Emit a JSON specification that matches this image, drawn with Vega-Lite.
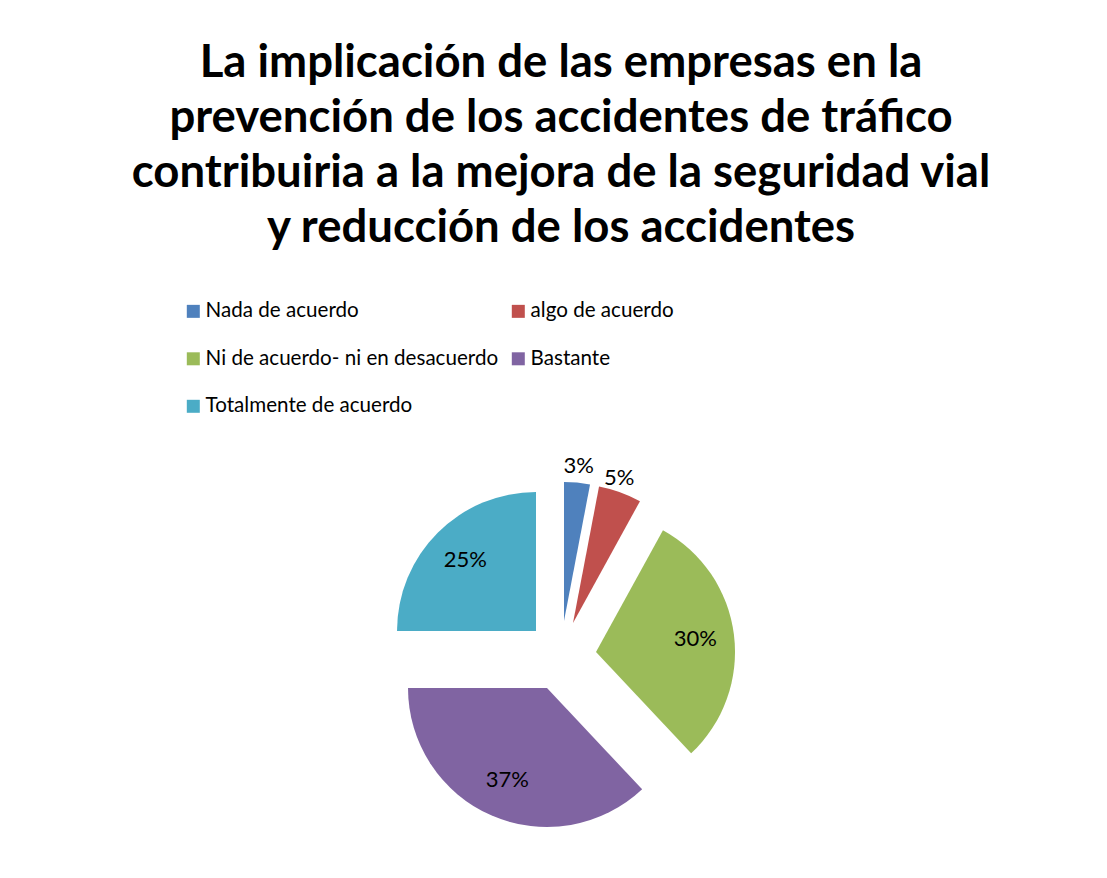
{
  "$schema": "https://vega.github.io/schema/vega-lite/v6.json",
  "width": 1092,
  "height": 444,
  "autosize": "none",
  "padding": {"left": 15, "top": 434, "right": 0, "bottom": 0},
  "background": "white",
  "title": {
    "text": ["La implicación de las empresas en la", "prevención de los accidentes de tráfico", "contribuiria a la mejora de la seguridad vial", "y reducción de los accidentes"],
    "font": "Lato",
    "fontSize": 45.5,
    "fontWeight": "bold",
    "color": "black",
    "lineHeight": 55,
    "anchor": "middle",
    "frame": "group",
    "offset": 50
  },
  "config": {
    "view": {"stroke": null},
    "legend": {
      "orient": "none",
      "legendX": 168,
      "legendY": -133,
      "columns": 2,
      "direction": "horizontal",
      "symbolType": "square",
      "symbolSize": 169,
      "symbolStrokeWidth": 0,
      "labelFont": "Lato",
      "labelFontSize": 20.6,
      "labelColor": "black",
      "labelLimit": 400,
      "labelOffset": 2,
      "rowPadding": 26.5,
      "columnPadding": 9,
      "padding": 0
    }
  },
  "data": {
    "values": [
      {"cat": "Nada de acuerdo", "pct": 0.03, "orden": 1},
      {"cat": "algo de acuerdo", "pct": 0.05, "orden": 2},
      {"cat": "Ni de acuerdo- ni en desacuerdo", "pct": 0.30, "orden": 3},
      {"cat": "Bastante", "pct": 0.37, "orden": 4},
      {"cat": "Totalmente de acuerdo", "pct": 0.25, "orden": 5}
    ]
  },
  "encoding": {
    "theta": {"field": "pct", "type": "quantitative", "stack": true},
    "order": {"field": "orden", "type": "quantitative"}
  },
  "layer": [
    {
      "layer": [
        {
          "mark": {"type": "arc", "radius": 139, "xOffset": 3, "yOffset": -35},
          "encoding": {
            "color": {"field": "cat", "type": "nominal", "title": null, "scale": {"domain": ["Nada de acuerdo", "algo de acuerdo", "Ni de acuerdo- ni en desacuerdo", "Bastante", "Totalmente de acuerdo"], "range": ["#4F81BD", "#C0504D", "#9BBB59", "#8064A2", "#4BACC6"]}},
            "opacity": {"condition": {"test": "datum.cat === 'Nada de acuerdo'", "value": 1}, "value": 0}
          }
        },
        {
          "mark": {"type": "text", "radius": 156, "xOffset": 3, "yOffset": -35, "font": "Lato", "fontSize": 22, "color": "black"},
          "encoding": {
            "text": {"field": "pct", "type": "quantitative", "format": ".0%"},
            "opacity": {"condition": {"test": "datum.cat === 'Nada de acuerdo'", "value": 1}, "value": 0}
          }
        }
      ]
    },
    {
      "layer": [
        {
          "mark": {"type": "arc", "radius": 139, "xOffset": 12, "yOffset": -33},
          "encoding": {
            "color": {"field": "cat", "type": "nominal", "title": null},
            "opacity": {"condition": {"test": "datum.cat === 'algo de acuerdo'", "value": 1}, "value": 0}
          }
        },
        {
          "mark": {"type": "text", "radius": 154, "xOffset": 6, "yOffset": -33, "font": "Lato", "fontSize": 22, "color": "black"},
          "encoding": {
            "text": {"field": "pct", "type": "quantitative", "format": ".0%"},
            "opacity": {"condition": {"test": "datum.cat === 'algo de acuerdo'", "value": 1}, "value": 0}
          }
        }
      ]
    },
    {
      "layer": [
        {
          "mark": {"type": "arc", "radius": 139, "xOffset": 35, "yOffset": -4},
          "encoding": {
            "color": {"field": "cat", "type": "nominal", "title": null},
            "opacity": {"condition": {"test": "datum.cat === 'Ni de acuerdo- ni en desacuerdo'", "value": 1}, "value": 0}
          }
        },
        {
          "mark": {"type": "text", "radius": 100, "xOffset": 35, "yOffset": -4, "font": "Lato", "fontSize": 22, "color": "black"},
          "encoding": {
            "text": {"field": "pct", "type": "quantitative", "format": ".0%"},
            "opacity": {"condition": {"test": "datum.cat === 'Ni de acuerdo- ni en desacuerdo'", "value": 1}, "value": 0}
          }
        }
      ]
    },
    {
      "layer": [
        {
          "mark": {"type": "arc", "radius": 139, "xOffset": -14, "yOffset": 32},
          "encoding": {
            "color": {"field": "cat", "type": "nominal", "title": null},
            "opacity": {"condition": {"test": "datum.cat === 'Bastante'", "value": 1}, "value": 0}
          }
        },
        {
          "mark": {"type": "text", "radius": 100, "xOffset": -14, "yOffset": 32, "font": "Lato", "fontSize": 22, "color": "black"},
          "encoding": {
            "text": {"field": "pct", "type": "quantitative", "format": ".0%"},
            "opacity": {"condition": {"test": "datum.cat === 'Bastante'", "value": 1}, "value": 0}
          }
        }
      ]
    },
    {
      "layer": [
        {
          "mark": {"type": "arc", "radius": 139, "xOffset": -25, "yOffset": -25},
          "encoding": {
            "color": {"field": "cat", "type": "nominal", "title": null},
            "opacity": {"condition": {"test": "datum.cat === 'Totalmente de acuerdo'", "value": 1}, "value": 0}
          }
        },
        {
          "mark": {"type": "text", "radius": 100, "xOffset": -25, "yOffset": -25, "font": "Lato", "fontSize": 22, "color": "black"},
          "encoding": {
            "text": {"field": "pct", "type": "quantitative", "format": ".0%"},
            "opacity": {"condition": {"test": "datum.cat === 'Totalmente de acuerdo'", "value": 1}, "value": 0}
          }
        }
      ]
    }
  ]
}
